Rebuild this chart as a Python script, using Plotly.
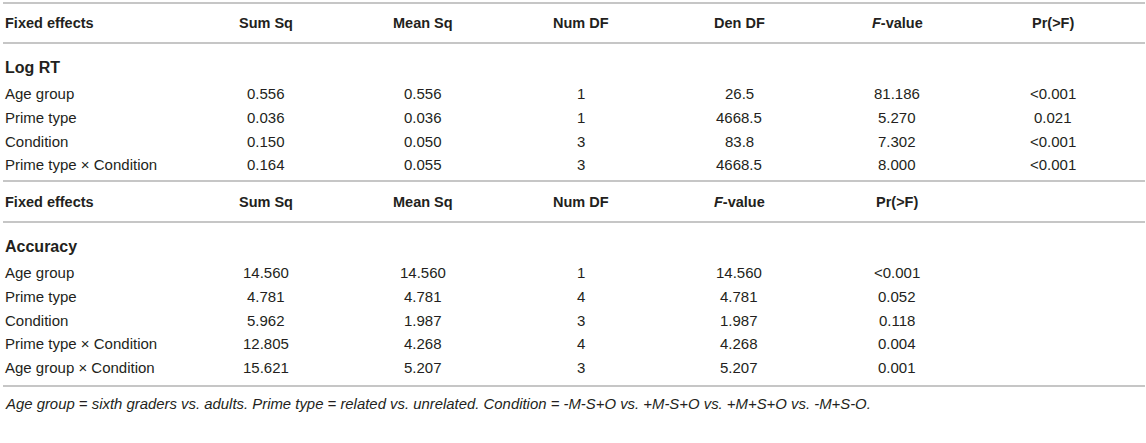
import plotly.graph_objects as go

# ---- data ----
header1 = ["Fixed effects", "Sum Sq", "Mean Sq", "Num DF", "Den DF", "<i>F</i>-value", "Pr(>F)"]
section1 = "Log RT"
effects1 = ["Age group", "Prime type", "Condition", "Prime type × Condition"]
sumsq1 = ["0.556", "0.036", "0.150", "0.164"]
meansq1 = ["0.556", "0.036", "0.050", "0.055"]
numdf1 = ["1", "1", "3", "3"]
dendf1 = ["26.5", "4668.5", "83.8", "4668.5"]
fval1 = ["81.186", "5.270", "7.302", "8.000"]
pval1 = ["<0.001", "0.021", "<0.001", "<0.001"]

header2 = ["Fixed effects", "Sum Sq", "Mean Sq", "Num DF", "<i>F</i>-value", "Pr(>F)"]
section2 = "Accuracy"
effects2 = ["Age group", "Prime type", "Condition", "Prime type × Condition", "Age group × Condition"]
sumsq2 = ["14.560", "4.781", "5.962", "12.805", "15.621"]
meansq2 = ["14.560", "4.781", "1.987", "4.268", "5.207"]
numdf2 = ["1", "4", "3", "4", "3"]
fval2 = ["14.560", "4.781", "1.987", "4.268", "5.207"]
pval2 = ["<0.001", "0.052", "0.118", "0.004", "0.001"]

footnote = ("<i>Age group = sixth graders vs. adults. Prime type = related vs. unrelated. "
            "Condition = -M-S+O vs. +M-S+O vs. +M+S+O vs. -M+S-O.</i>")

# ---- layout geometry (page pixels) ----
W, H = 1146, 443
left_x = 3
col_x = [266, 423, 581, 739, 897, 1053]
TXT = "#231f20"
LINE = "#c6c6c6"
FONT = "Liberation Sans, Arial, sans-serif"
FS = 15          # body text
FSB = 14.5       # column headers (bold)
FSS = 16         # section titles (bold)

ann = []
shapes = []


def hline(y):
    shapes.append(dict(type="line", xref="x", yref="y", x0=3, x1=1145, y0=y, y1=y,
                       line=dict(color=LINE, width=1.8)))


def text(x, y, s, anchor="center", bold=False, size=FS):
    if bold:
        s = "<b>" + s + "</b>"
    ann.append(dict(x=x, y=y, xref="x", yref="y", text=s, showarrow=False,
                    xanchor=anchor, yanchor="middle",
                    font=dict(family=FONT, size=size, color=TXT)))


# table 1
hline(3)
text(left_x, 23, header1[0], "left", True, FSB)
for cx, h in zip(col_x, header1[1:]):
    text(cx, 23, h, "center", True, FSB)
hline(43)
text(left_x, 67, section1, "left", True, FSS)
rows_y1 = [93, 117, 141, 164]
cols1 = [sumsq1, meansq1, numdf1, dendf1, fval1, pval1]
for i, y in enumerate(rows_y1):
    text(left_x, y, effects1[i], "left")
    for cx, col in zip(col_x, cols1):
        text(cx, y, col[i].replace("<", "&lt;"))
hline(181)

# table 2
text(left_x, 202, header2[0], "left", True, FSB)
for cx, h in zip(col_x, header2[1:]):
    text(cx, 202, h, "center", True, FSB)
hline(222)
text(left_x, 246, section2, "left", True, FSS)
rows_y2 = [272, 296, 320, 343, 367]
cols2 = [sumsq2, meansq2, numdf2, fval2, pval2]
for i, y in enumerate(rows_y2):
    text(left_x, y, effects2[i], "left")
    for cx, col in zip(col_x, cols2):
        text(cx, y, col[i].replace("<", "&lt;"))
hline(386)

text(left_x, 404, footnote, "left", False, 14.9)

fig = go.Figure()
fig.update_layout(
    width=W, height=H,
    margin=dict(l=0, r=0, t=0, b=0),
    paper_bgcolor="white", plot_bgcolor="white",
    xaxis=dict(range=[0, W], visible=False, fixedrange=True),
    yaxis=dict(range=[H, 0], visible=False, fixedrange=True),
    annotations=ann, shapes=shapes, showlegend=False,
)

fig.write_html(
    "out.html",
    config={"displayModeBar": False},
    post_script="document.body.style.margin='0';document.body.style.overflow='hidden';",
)
